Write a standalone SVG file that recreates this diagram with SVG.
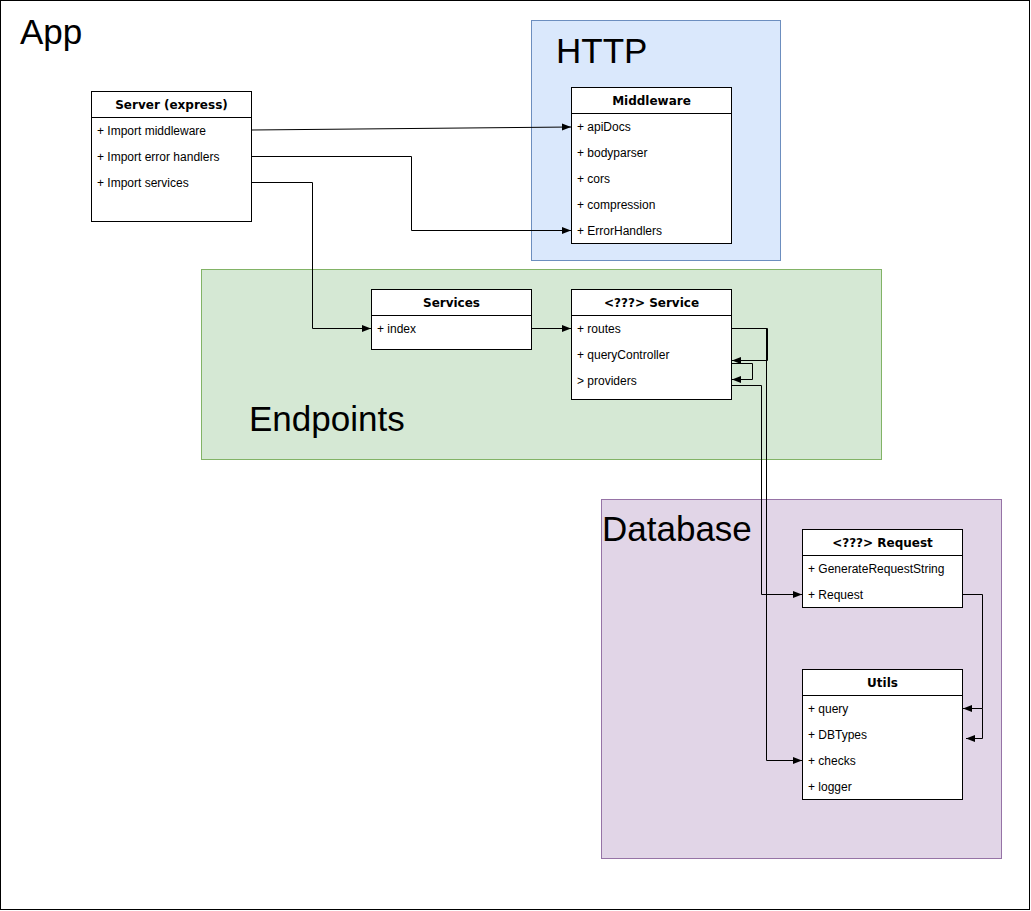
<svg xmlns="http://www.w3.org/2000/svg" width="1031" height="911" viewBox="0 0 1031 911">
<style>
.frame{fill:#ffffff;stroke:#000000;stroke-width:1}
.box{fill:#ffffff;stroke:#000000;stroke-width:1}
.sep{stroke:#000000;stroke-width:1}
.title{font-family:"DejaVu Sans",Verdana,sans-serif;font-weight:bold;font-size:12px;fill:#000000;text-anchor:middle}
.row{font-family:"Liberation Sans",Arial,sans-serif;font-size:12px;fill:#000000}
.big{font-family:"Liberation Sans",Arial,sans-serif;font-size:35px;fill:#000000}
.edge{fill:none;stroke:#000000;stroke-width:1;marker-end:url(#arr)}
</style>
<defs>
<marker id="arr" markerUnits="userSpaceOnUse" markerWidth="10" markerHeight="8" refX="9" refY="4" orient="auto">
<path d="M0,0.5 L9,4 L0,7.5 Z" fill="#000000"/>
</marker>
</defs>
<g id="app">
<rect class="frame" x="0.5" y="0.5" width="1029" height="909"/>
<text class="big" x="20" y="44">App</text>
</g>
<g id="http">
<rect x="531.5" y="20.5" width="249" height="240" fill="#dae8fc" stroke="#6c8ebf"/>
<text class="big" x="556" y="63">HTTP</text>
</g>
<g id="endpoints">
<rect x="201.5" y="269.5" width="680" height="190" fill="#d5e8d4" stroke="#82b366"/>
<text class="big" x="249" y="431">Endpoints</text>
</g>
<g id="database">
<rect x="601.5" y="499.5" width="400" height="359" fill="#e1d5e7" stroke="#9673a6"/>
<text class="big" x="602" y="541">Database</text>
</g>
<g id="server">
<rect class="box" x="91.5" y="91.5" width="160" height="130"/>
<line class="sep" x1="91.5" y1="117.5" x2="251.5" y2="117.5"/>
<text class="title" x="171.5" y="108.5">Server (express)</text>
<text class="row" x="97" y="134.5">+ Import middleware</text>
<text class="row" x="97" y="160.5">+ Import error handlers</text>
<text class="row" x="97" y="186.5">+ Import services</text>
</g>
<g id="middleware">
<rect class="box" x="571.5" y="87.5" width="160" height="156"/>
<line class="sep" x1="571.5" y1="113.5" x2="731.5" y2="113.5"/>
<text class="title" x="651.5" y="104.5">Middleware</text>
<text class="row" x="577" y="130.5">+ apiDocs</text>
<text class="row" x="577" y="156.5">+ bodyparser</text>
<text class="row" x="577" y="182.5">+ cors</text>
<text class="row" x="577" y="208.5">+ compression</text>
<text class="row" x="577" y="234.5">+ ErrorHandlers</text>
</g>
<g id="services">
<rect class="box" x="371.5" y="289.5" width="160" height="60"/>
<line class="sep" x1="371.5" y1="315.5" x2="531.5" y2="315.5"/>
<text class="title" x="451.5" y="306.5">Services</text>
<text class="row" x="377" y="332.5">+ index</text>
</g>
<g id="service">
<rect class="box" x="571.5" y="289.5" width="160" height="110"/>
<line class="sep" x1="571.5" y1="315.5" x2="731.5" y2="315.5"/>
<text class="title" x="651.5" y="306.5">&lt;???&gt; Service</text>
<text class="row" x="577" y="332.5">+ routes</text>
<text class="row" x="577" y="358.5">+ queryController</text>
<text class="row" x="577" y="384.5">&gt; providers</text>
</g>
<g id="request">
<rect class="box" x="802.5" y="529.5" width="160" height="78"/>
<line class="sep" x1="802.5" y1="555.5" x2="962.5" y2="555.5"/>
<text class="title" x="882.5" y="546.5">&lt;???&gt; Request</text>
<text class="row" x="808" y="572.5">+ GenerateRequestString</text>
<text class="row" x="808" y="598.5">+ Request</text>
</g>
<g id="utils">
<rect class="box" x="802.5" y="669.5" width="160" height="130"/>
<line class="sep" x1="802.5" y1="695.5" x2="962.5" y2="695.5"/>
<text class="title" x="882.5" y="686.5">Utils</text>
<text class="row" x="808" y="712.5">+ query</text>
<text class="row" x="808" y="738.5">+ DBTypes</text>
<text class="row" x="808" y="764.5">+ checks</text>
<text class="row" x="808" y="790.5">+ logger</text>
</g>
<g id="connectors">
<path class="edge" d="M251.5,130 L571,127"/>
<path class="edge" d="M251.5,156.5 L411.5,156.5 L411.5,230.5 L571,230.5"/>
<path class="edge" d="M251.5,182.5 L312.5,182.5 L312.5,328.5 L371,328.5"/>
<path class="edge" d="M531.5,328.5 L571,328.5"/>
<path class="edge" d="M731.5,328.5 L767.5,328.5 L767.5,360.5 L732,360.5"/>
<path class="edge" d="M731.5,363.5 L752.5,363.5 L752.5,379.5 L732,379.5"/>
<path class="edge" d="M731.5,385.5 L761.5,385.5 L761.5,594.5 L802,594.5"/>
<path class="edge" d="M766.5,328.5 L766.5,760.5 L802,760.5"/>
<path class="edge" d="M962.5,594.5 L982.5,594.5 L982.5,708.5 L963,708.5"/>
<path class="edge" d="M982.5,708.5 L982.5,738.5 L966,738.5"/>
</g>
</svg>
